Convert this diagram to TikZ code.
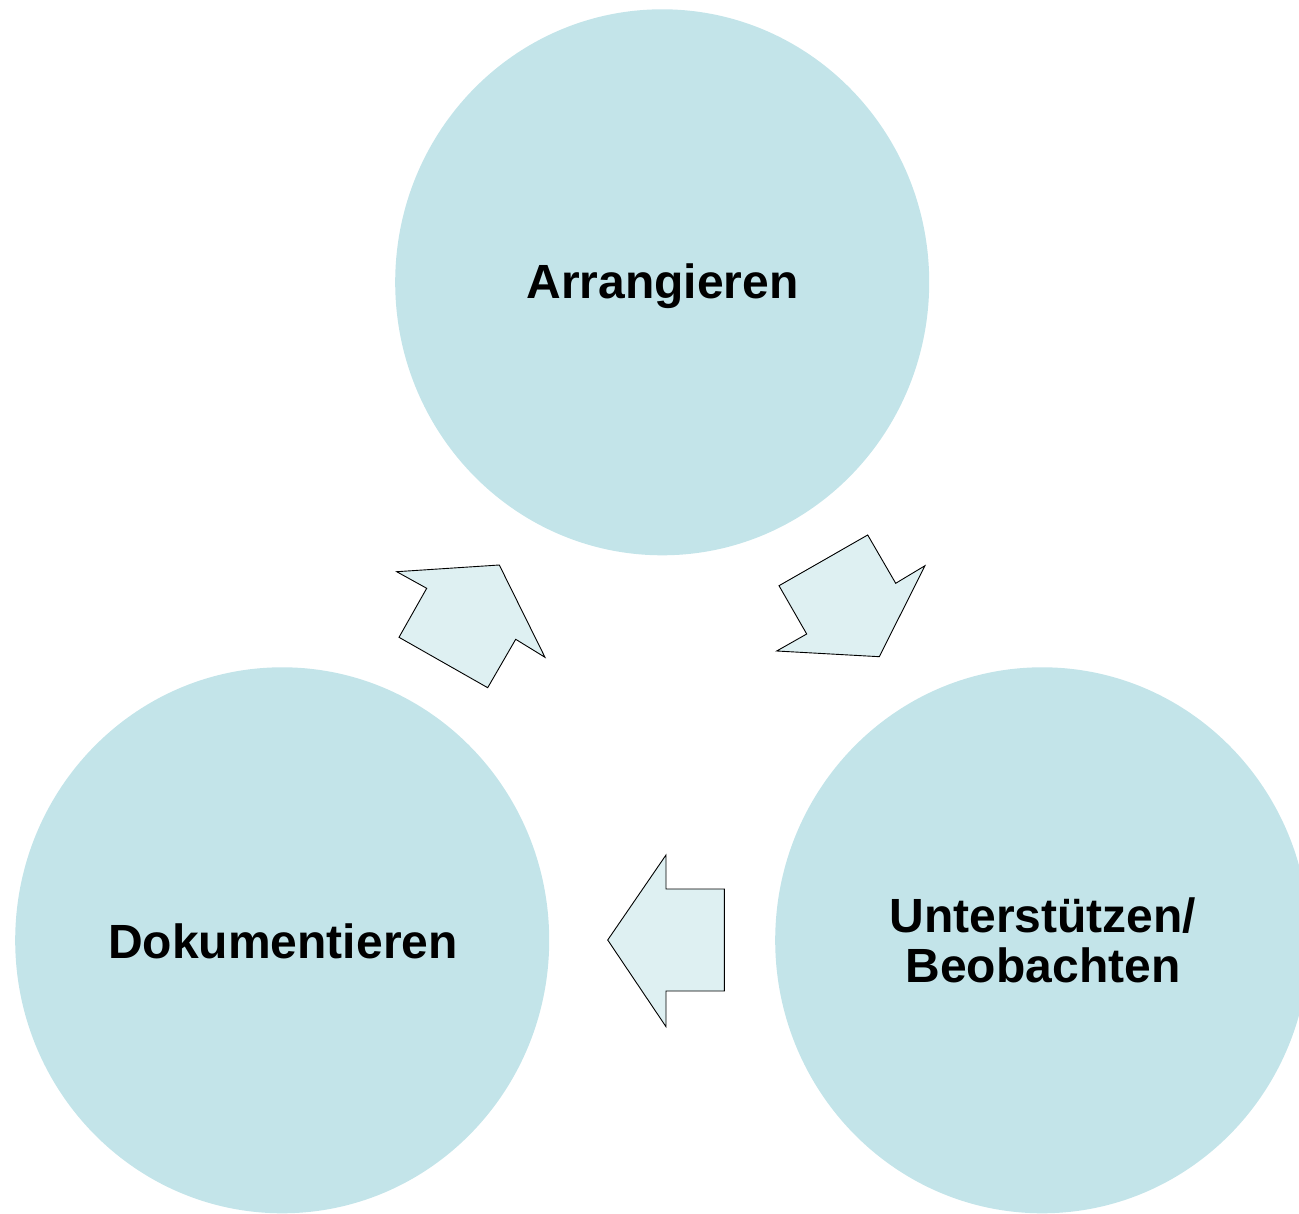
\documentclass[tikz,border=0pt]{standalone}
\usepackage{fontspec}
\setmainfont{Liberation Sans}
\definecolor{circfill}{RGB}{195,228,233}
\definecolor{arrfill}{RGB}{222,240,242}
\tikzset{
  bubble/.style={ellipse, fill=circfill, minimum width=534pt, minimum height=546pt, inner sep=0pt},
  bubblelabel/.style={font=\fontsize{48}{50}\selectfont\bfseries, align=center},
  blockarrow/.style={draw=black, fill=arrfill, line width=0.9pt, line join=miter}
}
\usetikzlibrary{shapes.geometric}
\begin{document}
\begin{tikzpicture}[x=1pt,y=-1pt]
\useasboundingbox (0,0) rectangle (1299,1214);
\node[bubble] (arr) at (662.2,282.3) {};
\node[bubble] (dok) at (282.2,940.3) {};
\node[bubble] (unt) at (1042.2,940.3) {};
\node[bubblelabel] (arrlab) at (662.5,286) {Arrangieren};
\node[bubblelabel] (doklab) at (283,941) {Dokumentieren};
\node[bubblelabel] (untlab) at (1043,940) {Unterstützen/\\Beobachten};
% arrow Dokumentieren -> Arrangieren
\draw[blockarrow] (396.7,571.7) -- (499.3,565) -- (545,657.3) -- (515.7,639.3) -- (487.7,687.7) -- (399,637.3) -- (426.7,588.3) -- cycle;
% arrow Arrangieren -> Unterstuetzen
\draw[blockarrow] (867.7,535) -- (895.7,583.3) -- (925,565.7) -- (879.3,656.7) -- (776.7,651) -- (806.7,634) -- (779,585.7) -- cycle;
% arrow Unterstuetzen -> Dokumentieren
\draw[blockarrow] (666,855) -- (666,889) -- (724.3,889) -- (724.3,991) -- (666,991) -- (666,1026.7) -- (607.7,940) -- cycle;
\end{tikzpicture}
\end{document}
